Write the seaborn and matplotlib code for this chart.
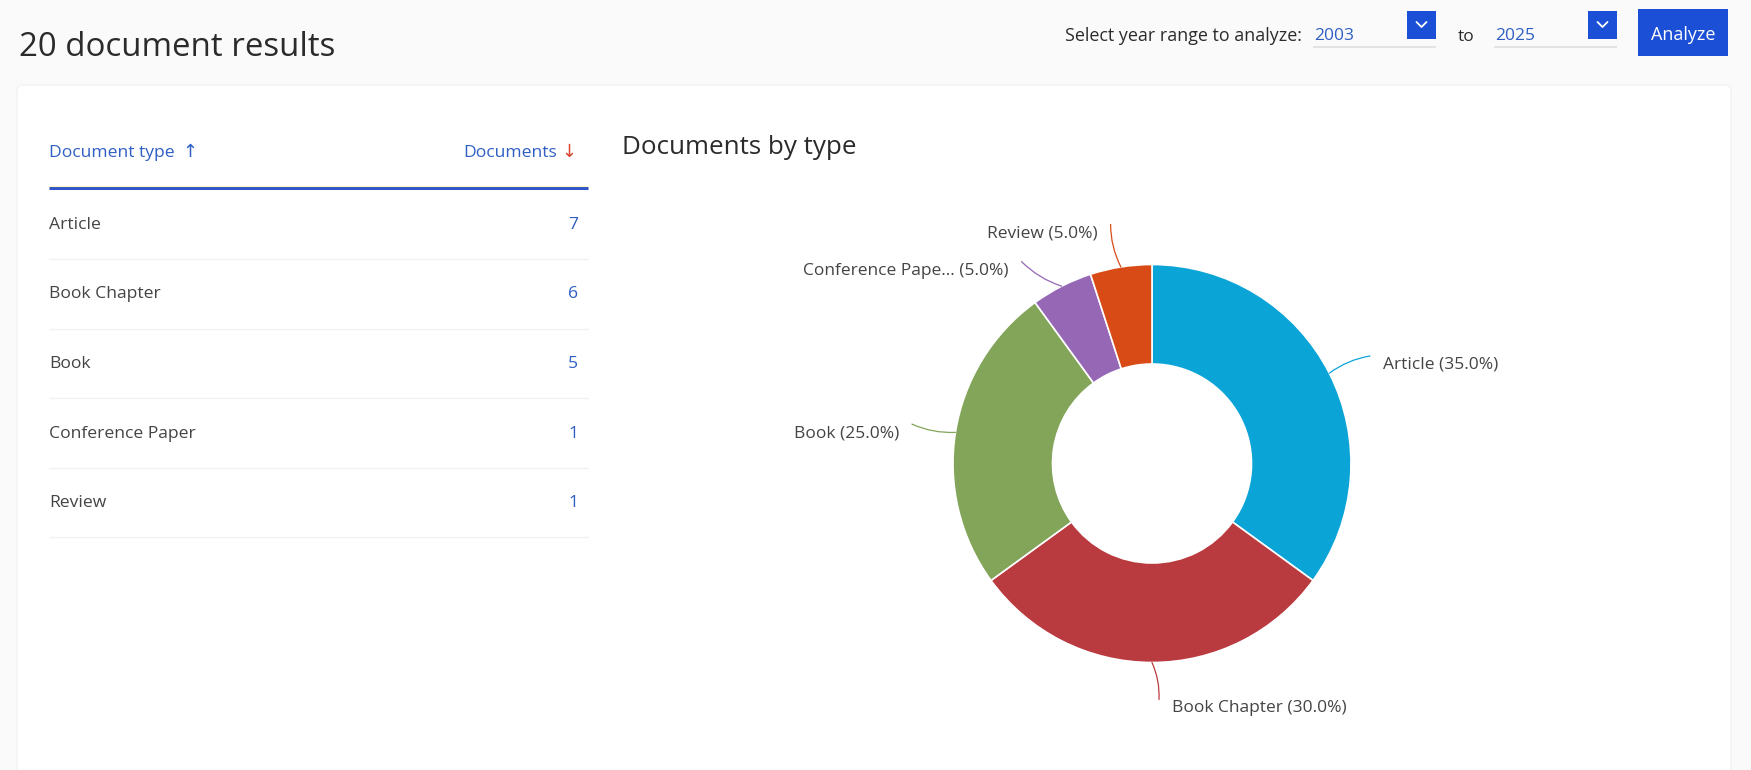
import numpy as np
import matplotlib
matplotlib.use("Agg")
import matplotlib.pyplot as plt
import matplotlib.patches as mpatches
import seaborn as sns

# data
doc_types = ["Article", "Book Chapter", "Book", "Conference Paper", "Review"]
doc_counts = [7, 6, 5, 1, 1]
pie_colors = ["#0ba4d7", "#b93b3f", "#83a55a", "#9567b4", "#d84b17"]
year_from = "2003"
year_to = "2025"

sns.set_theme(style="white")
plt.rcParams["font.family"] = ["Open Sans", "DejaVu Sans"]

W, H = 1751, 770
fig = plt.figure(figsize=(W / 100, H / 100), dpi=100)
fig.patch.set_facecolor("#fafafa")
ax = fig.add_axes([0, 0, 1, 1])
ax.set_xlim(0, W)
ax.set_ylim(0, H)
ax.set_axis_off()


def Y(y):
    # pixel row from the top -> axis y
    return H - y


blue_txt = "#2f5fc4"
dark = "#2b2b2b"
grey_txt = "#444444"
arrow_font = ["DejaVu Sans"]

# page header
ax.text(19, Y(47), f"{sum(doc_counts)} document results", fontsize=23.8,
        color=dark, va="center", ha="left")

# year range controls
ax.text(1302, Y(36), "Select year range to analyze:", fontsize=12.9, color=dark,
        va="center", ha="right")
for x0, x1, yr in [(1313, 1436, year_from), (1494, 1617, year_to)]:
    ax.text(x0 + 1, Y(36), yr, fontsize=12.5, color=blue_txt, va="center", ha="left")
    ax.add_patch(mpatches.Rectangle((x0, Y(48)), x1 - x0, 2, color="#e3e3e3", lw=0))
    ax.add_patch(mpatches.Rectangle((x1 - 29, Y(39)), 29, 28, color="#1a4fd6", lw=0))
    bx, by = x1 - 14.5, Y(25)
    ax.plot([bx - 5, bx, bx + 5], [by + 3, by - 2, by + 3], color="white", lw=1.3)
ax.text(1466, Y(37), "to", fontsize=12.5, color=dark, va="center", ha="center")
ax.add_patch(mpatches.Rectangle((1638, Y(56)), 90, 47, color="#1a4fd6", lw=0))
ax.text(1683, Y(35), "Analyze", fontsize=13, color="white", va="center", ha="center")

# white card
ax.add_patch(mpatches.FancyBboxPatch((17, -10), 1714, Y(85) + 10,
                                     boxstyle="round,pad=0,rounding_size=6",
                                     facecolor="white", edgecolor="#f0f0f0", lw=0.8))

# table header
ax.text(49, Y(153), "Document type", fontsize=12.6, color=blue_txt, va="center", ha="left")
ax.text(182, Y(152), "\u2191", fontsize=13, color=blue_txt, va="center", ha="left",
        family=arrow_font)
ax.text(557, Y(153), "Documents", fontsize=12.6, color=blue_txt, va="center", ha="right")
ax.text(561, Y(152), "\u2193", fontsize=13, color="#d9452f", va="center", ha="left",
        family=arrow_font)
ax.plot([49, 588], [Y(188), Y(188)], color="#2f55c8", lw=2.2, solid_capstyle="butt")
ax.plot([49, 588], [Y(186), Y(186)], color="#fff4c0", lw=0.8)

row0, row_h = 225, 69.5
for i, (name, n) in enumerate(zip(doc_types, doc_counts)):
    yc = row0 + i * row_h
    ax.text(49, Y(yc), name, fontsize=12.6, color=grey_txt, va="center", ha="left")
    ax.text(578, Y(yc), str(n), fontsize=12.6, color=blue_txt, va="center", ha="right")
    ax.plot([49, 588], [Y(yc + 34), Y(yc + 34)], color="#f1f1f1", lw=1)

# donut chart
ax.text(622, Y(147), "Documents by type", fontsize=18.7, color=dark, va="center", ha="left")

cx, cy, R = 1152, Y(463.5), 199
wedges, _ = ax.pie(doc_counts, colors=pie_colors, radius=R, center=(cx, cy),
                   startangle=90, counterclock=False, frame=True,
                   wedgeprops=dict(width=R * 0.5, edgecolor="white", linewidth=1.2))
ax.set_xlim(0, W)
ax.set_ylim(0, H)
ax.set_aspect("auto")
ax.set_axis_off()

total = sum(doc_counts)
# label placement: pixel shift of the text anchor from the radial point (x right, y down)
label_shift = [(18, 10), (20, 6), (-17, 7), (-35, 20), (-17, 6)]
for w, name, n, col, (dx, dy) in zip(wedges, doc_types, doc_counts, pie_colors, label_shift):
    ang = np.deg2rad((w.theta1 + w.theta2) / 2)
    ex, ey = cx + R * np.cos(ang), cy + R * np.sin(ang)
    rx, ry = cx + (R + 40) * np.cos(ang), cy + (R + 40) * np.sin(ang)
    tx, ty = rx + dx, ry - dy
    right = dx > 0
    lx = tx - 13 if right else tx + 13
    ly = ty + 9
    short = name if len(name) <= 15 else name[:15] + "..."
    txt = f"{short} ({100 * n / total:.1f}%)"
    ax.annotate("", xy=(ex, ey), xytext=(lx, ly),
                arrowprops=dict(arrowstyle="-", color=col, lw=0.9,
                                connectionstyle="arc3,rad=0.12",
                                shrinkA=0, shrinkB=0))
    ax.text(tx, ty, txt, fontsize=12.5, color=grey_txt, va="center",
            ha="left" if right else "right")

fig.savefig("out.png", dpi=100, facecolor=fig.get_facecolor())
